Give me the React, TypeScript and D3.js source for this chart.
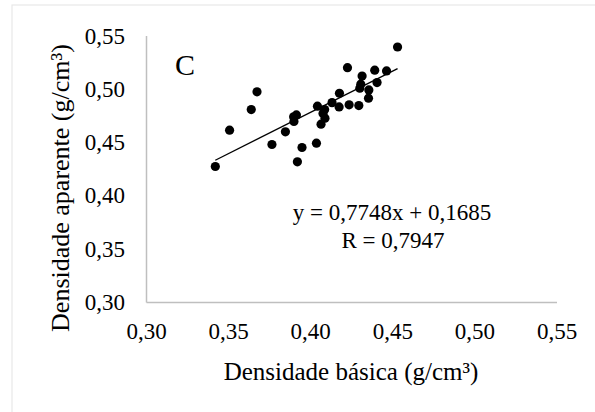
import React from "react";
import * as d3 from "d3";

const basica = [
  0.4529, 0.4224, 0.439, 0.4462, 0.4313, 0.4404, 0.4305, 0.4299, 0.4354, 0.3673,
  0.4175, 0.4352, 0.3638, 0.413, 0.4041, 0.4173, 0.4234, 0.4293, 0.4085, 0.4075,
  0.3913, 0.3896, 0.3898, 0.4087, 0.4063, 0.3506, 0.3846, 0.3764, 0.4035, 0.3947,
  0.3919, 0.3419,
];
const aparente = [
  0.5397, 0.5203, 0.5179, 0.5172, 0.5125, 0.5063, 0.5048, 0.501, 0.4994, 0.4976,
  0.4963, 0.4917, 0.481, 0.4875, 0.4842, 0.4835, 0.4854, 0.4847, 0.481, 0.4772,
  0.476, 0.4742, 0.4698, 0.4729, 0.4673, 0.4617, 0.4601, 0.4482, 0.4495, 0.4454,
  0.432, 0.4276,
];
const xTicks = [0.3, 0.35, 0.4, 0.45, 0.5, 0.55];
const yTicks = [0.3, 0.35, 0.4, 0.45, 0.5, 0.55];
const slope = 0.7748;
const intercept = 0.1685;
const eqLabel = "y = 0,7748x + 0,1685";
const rLabel = "R = 0,7947";
const panelLabel = "C";
const xTitle = "Densidade básica (g/cm³)";
const yTitle = "Densidade aparente (g/cm³)";

const fmt = (v: number) => v.toFixed(2).replace(".", ",");

export default function App() {
  const W = 595;
  const H = 412;
  const x = d3.scaleLinear().domain([0.3, 0.55]).range([146.5, 557]);
  const y = d3.scaleLinear().domain([0.3, 0.55]).range([302.5, 36]);
  const font = "'Liberation Serif', 'Times New Roman', serif";
  const x0 = d3.min(basica) as number;
  const x1 = d3.max(basica) as number;
  const trend = d3.line<number>()
    .x((d) => x(d))
    .y((d) => y(slope * d + intercept));

  return (
    <svg
      width={W}
      height={H}
      style={{ position: "absolute", left: 0, top: 0, background: "#fff" }}
      fontFamily={font}
    >
      <rect x={12} y={5} width={620} height={440} fill="#fff" stroke="#e8e8e8" strokeWidth={1.2} />
      {/* axes */}
      <line x1={x(0.3)} x2={x(0.3)} y1={y(0.55)} y2={y(0.3)} stroke="#bfbfbf" strokeWidth={1.5} />
      <line x1={x(0.3)} x2={x(0.55)} y1={y(0.3)} y2={y(0.3)} stroke="#bfbfbf" strokeWidth={1.5} />
      {yTicks.map((t) => (
        <text key={"y" + t} x={125} y={y(t)} dy="0.33em" textAnchor="end" fontSize={23} fill="#000">
          {fmt(t)}
        </text>
      ))}
      {xTicks.map((t) => (
        <text key={"x" + t} x={x(t)} y={339} textAnchor="middle" fontSize={23} fill="#000">
          {fmt(t)}
        </text>
      ))}
      {/* trend line */}
      <path d={trend([x0, x1]) || ""} stroke="#000" strokeWidth={1.3} fill="none" />
      {basica.map((bx, i) => (
        <circle key={i} cx={x(bx)} cy={y(aparente[i])} r={4.6} fill="#000" />
      ))}
      <text x={175} y={75} fontSize={30} fill="#000">{panelLabel}</text>
      <text x={392} y={220} textAnchor="middle" fontSize={23} fill="#000">{eqLabel}</text>
      <text x={393} y={248} textAnchor="middle" fontSize={23} fill="#000">{rLabel}</text>
      <text x={351} y={380} textAnchor="middle" fontSize={25} fill="#000">{xTitle}</text>
      <text
        transform={`translate(69,188) rotate(-90)`}
        textAnchor="middle"
        fontSize={26}
        fill="#000"
      >
        {yTitle}
      </text>
    </svg>
  );
}
